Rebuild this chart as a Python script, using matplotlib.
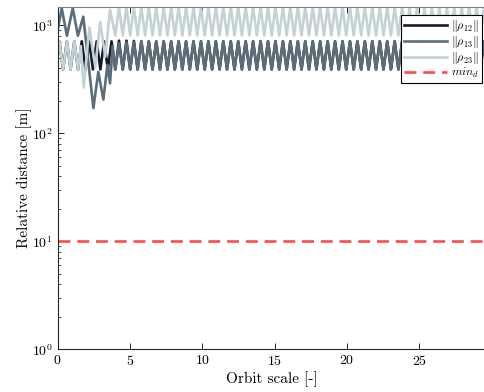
import matplotlib
matplotlib.use('Agg')
import matplotlib.pyplot as plt
import numpy as np

# half-period sampling grid of the steady oscillation (orbit scale)
half_step = 0.2575
grid = np.arange(117) * half_step - 0.1375

# ||rho_12|| on the grid (troughs / peaks)
rho12 = [390, 710, 390, 710, 390, 710, 390, 710, 390, 710,
         390, 710, 390, 710, 390, 710, 390, 720, 390, 720,
         390, 715, 390, 710, 390, 710, 390, 710, 390, 710,
         390, 710, 390, 710, 390, 710, 390, 710, 390, 710,
         390, 710, 390, 710, 390, 710, 390, 710, 390, 710,
         390, 710, 390, 710, 390, 710, 390, 710, 390, 710,
         390, 710, 390, 710, 390, 710, 390, 710, 390, 710,
         390, 710, 390, 710, 390, 710, 390, 710, 390, 710,
         390, 710, 390, 710, 390, 710, 390, 710, 390, 710,
         390, 710, 390, 710, 390, 710, 390, 710, 390, 710,
         390, 710, 390, 710, 390, 710, 390, 710, 390, 710,
         390, 710, 390, 710, 390, 710, 390]

# ||rho_13||: transient at the start, then the grid from index 16 on
rho13_early_x = [0.0, 0.28, 0.64, 1.04, 1.40, 1.77, 2.47, 2.81, 3.16, 3.44, 3.62, 3.80]
rho13_early_y = [900, 1440, 800, 1440, 800, 1200, 171, 370, 205, 430, 290, 640]
rho13_steady = [390, 680, 390, 690, 390, 700, 390, 710, 390, 710,
                390, 710, 390, 710, 390, 710, 390, 710, 390, 710,
                390, 710, 390, 710, 390, 710, 390, 710, 390, 710,
                390, 710, 390, 710, 390, 710, 390, 710, 390, 710,
                390, 710, 390, 710, 390, 710, 390, 710, 390, 710,
                390, 710, 390, 710, 390, 710, 390, 710, 390, 710,
                390, 710, 390, 710, 390, 710, 390, 710, 390, 710,
                390, 710, 390, 710, 390, 710, 390, 710, 390, 710,
                390, 710, 390, 710, 390, 710, 390, 710, 390, 710,
                390, 710, 390, 710, 390, 710, 390, 710, 390, 710,
                390]

# ||rho_23||
rho23_early_x = [0.0, 0.12, 0.38, 0.64, 0.89, 1.15, 1.41, 1.60, 1.80, 2.19, 2.60, 2.94, 3.29, 3.62]
rho23_early_y = [540, 710, 390, 710, 390, 710, 390, 640, 265, 950, 410, 1070, 510, 1390]
rho23_steady = [805, 1470, 805, 1470, 805, 1470, 805, 1470, 805, 1470,
                805, 1470, 805, 1470, 805, 1470, 805, 1470, 805, 1470,
                805, 1470, 805, 1470, 805, 1470, 805, 1470, 805, 1470,
                805, 1470, 805, 1470, 805, 1470, 805, 1470, 805, 1470,
                805, 1470, 805, 1470, 805, 1470, 805, 1470, 805, 1470,
                805, 1470, 805, 1470, 805, 1470, 805, 1470, 805, 1470,
                805, 1470, 805, 1470, 805, 1470, 805, 1470, 805, 1470,
                805, 1470, 805, 1470, 805, 1470, 805, 1470, 805, 1470,
                805, 1470, 805, 1470, 805, 1470, 805, 1470, 805, 1470,
                805, 1470, 805, 1470, 805, 1470, 805, 1470, 805, 1470,
                805]

min_d = 10
labels = [r'$\|\rho_{12}\|$', r'$\|\rho_{13}\|$', r'$\|\rho_{23}\|$', r'$min_d$']
colors = ['#161a2b', '#5b6d7a', '#c3d2d4', '#ff4a4a']

plt.rcParams['font.family'] = ['cmr10']
plt.rcParams['mathtext.fontset'] = 'cm'
plt.rcParams['axes.formatter.use_mathtext'] = True

fig = plt.figure(figsize=(4.85, 3.92), dpi=100)
ax = fig.add_axes([0.1189, 0.109, 0.885, 0.874])

x13 = np.concatenate([rho13_early_x, grid[16:]])
y13 = np.concatenate([rho13_early_y, rho13_steady])
x23 = np.concatenate([rho23_early_x, grid[16:]])
y23 = np.concatenate([rho23_early_y, rho23_steady])

lw = 1.9
ax.plot(grid, rho12, color=colors[0], lw=lw, label=labels[0])
ax.plot(x13, y13, color=colors[1], lw=lw, label=labels[1])
ax.plot(x23, y23, color=colors[2], lw=lw, label=labels[2])
ax.axhline(min_d, color=colors[3], lw=1.9, ls=(0, (4.5, 2.6)), label=labels[3])

ax.set_yscale('log')
ax.set_ylim(1, 1486)
ax.set_xlim(0, 29.67)
ax.set_xticks([0, 5, 10, 15, 20, 25])

ax.tick_params(which='both', direction='in', top=True, right=False, labelsize=10)
ax.tick_params(which='major', length=4, width=0.6)
ax.tick_params(which='minor', length=2.5, width=0.5)
for s in ['left', 'bottom']:
    ax.spines[s].set_linewidth(0.8)
    ax.spines[s].set_color('#262626')
ax.spines['top'].set_color('#808080')
ax.spines['top'].set_linewidth(0.8)
ax.spines['right'].set_visible(False)

ax.set_xlabel('Orbit scale [-]', fontsize=11, labelpad=2)
ax.set_ylabel('Relative distance [m]', fontsize=11, labelpad=0)

leg = ax.legend(loc='upper right', bbox_to_anchor=(482 / 485, 1 - 15 / 392),
                bbox_transform=fig.transFigure, borderaxespad=0, fontsize=8.5,
                handlelength=3.6, labelspacing=0.0, fancybox=False,
                framealpha=1, edgecolor='black', borderpad=0.25, handletextpad=0.4)
leg.get_frame().set_linewidth(0.8)

fig.savefig('out.png', dpi=100)
